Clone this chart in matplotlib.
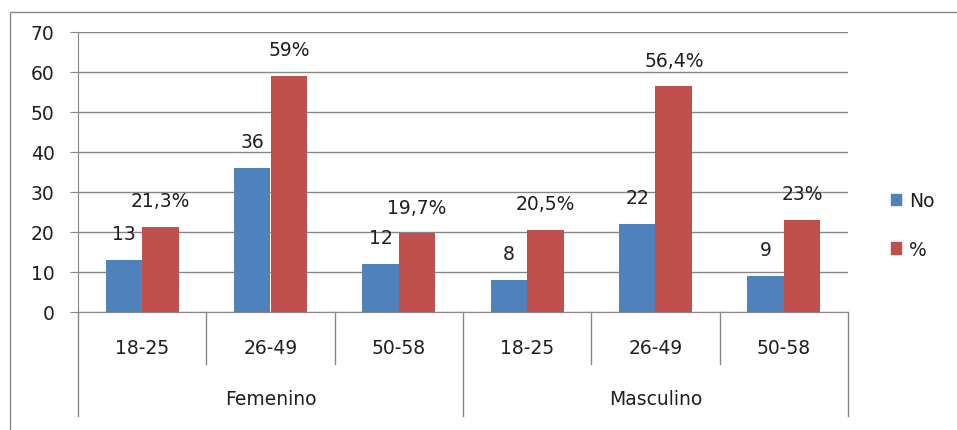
import matplotlib
matplotlib.use("Agg")
import matplotlib.pyplot as plt
from matplotlib.patches import Rectangle, Patch

# data
groups = ["Femenino", "Masculino"]
ages = ["18-25", "26-49", "50-58"]
counts = [13, 36, 12, 8, 22, 9]
pcts = [21.3, 59, 19.7, 20.5, 56.4, 23]
pct_labels = ["21,3%", "59%", "19,7%", "20,5%", "56,4%", "23%"]
yticks = [0, 10, 20, 30, 40, 50, 60, 70]

blue = "#4F81BD"
red = "#C0504D"
grey = "#868686"
txt = "#1f1f1f"

plt.rcParams["font.family"] = ["DejaVu Sans"]
plt.rcParams["font.size"] = 13.5

W, H = 957, 431
fig = plt.figure(figsize=(W / 100, H / 100), dpi=100)
ax = fig.add_axes([78 / W, 1 - 313 / H, (848 - 78) / W, 280 / H])

n = len(counts)
x = list(range(n))
w = 1 / 3.5
ax.bar([i - w / 2 for i in x], counts, width=w, color=blue, label="No", zorder=3)
ax.bar([i + w / 2 for i in x], pcts, width=w, color=red, label="%", zorder=3)

off = 26 * 0.72  # label lifted about 26 px above the bar top
for i in x:
    ax.annotate(str(counts[i]), (i - w / 2, counts[i]), xytext=(0, off),
                textcoords="offset points", ha="center", va="center", color=txt)
    ax.annotate(pct_labels[i], (i + w / 2, pcts[i]), xytext=(0, off),
                textcoords="offset points", ha="center", va="center", color=txt)

ax.set_xlim(-0.5, n - 0.5)
ax.set_ylim(0, 70)
ax.set_yticks(yticks)
ax.yaxis.grid(True, color=grey, lw=1)
ax.set_axisbelow(True)
ax.tick_params(axis="y", length=5.8, color=grey, pad=11, labelcolor=txt)
ax.set_xticks([])
for s in ["top", "right"]:
    ax.spines[s].set_visible(False)
for s in ["left", "bottom"]:
    ax.spines[s].set_color(grey)

# two level category axis
tr = ax.get_xaxis_transform()
for k in range(n + 1):
    low = -0.371 if k % 3 == 0 else -0.186
    ax.plot([k - 0.5, k - 0.5], [0, low], color=grey, lw=1, transform=tr, clip_on=False)
for i in x:
    ax.text(i, -0.125, ages[i % 3], transform=tr, ha="center", va="center", color=txt)
for g, name in enumerate(groups):
    ax.text(g * 3 + 1, -0.31, name, transform=tr, ha="center", va="center", color=txt)

handles = [Patch(color=blue, label="No"), Patch(color=red, label="%")]
fig.legend(handles=handles, loc="center left", bbox_to_anchor=(874 / W, 1 - 226 / H),
           frameon=False, handlelength=0.55, handleheight=0.55, handletextpad=0.4,
           labelspacing=1.55, labelcolor=txt)

# chart border
fig.patches.append(Rectangle((10 / W, -0.1), 1.0, 1 - 13 / H + 0.1, fill=False,
                             edgecolor=grey, lw=1, transform=fig.transFigure))

fig.savefig("out.png", dpi=100)
